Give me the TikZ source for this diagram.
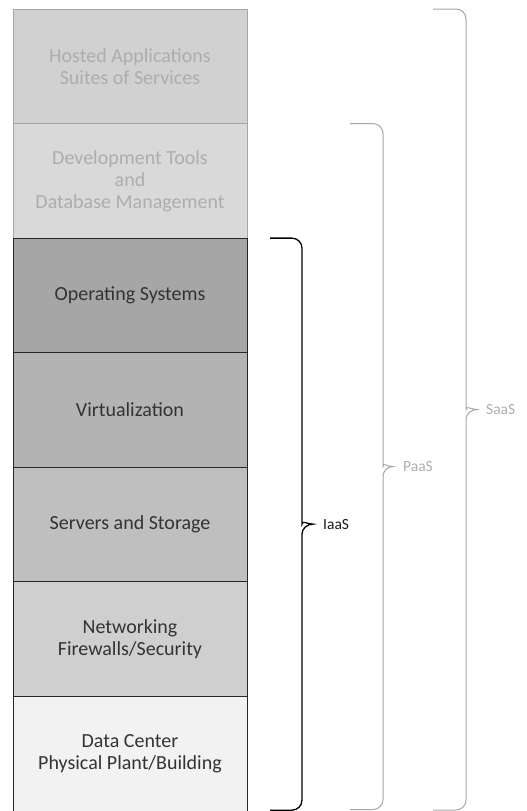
\documentclass[tikz,border=0pt]{standalone}
\usepackage{fontspec}
\setmainfont{Carlito}
\usetikzlibrary{positioning,calc}

\definecolor{hostedfill}{HTML}{D1D1D1}
\definecolor{devfill}{HTML}{D9D9D9}
\definecolor{osfill}{HTML}{A6A6A6}
\definecolor{virtfill}{HTML}{B3B3B3}
\definecolor{serverfill}{HTML}{BFBFBF}
\definecolor{netfill}{HTML}{CFCFCF}
\definecolor{dcfill}{HTML}{F2F2F2}
\definecolor{fadedtext}{HTML}{ADADAD}
\definecolor{layertext}{HTML}{333333}

\begin{document}
\begin{tikzpicture}[x=1pt, y=-1pt,
    layer/.style={draw=black!85, line width=0.9pt, rectangle, minimum width=234pt, minimum height=114.57pt,
      inner sep=0pt, outer sep=0pt, align=center, text=layertext, font=\fontsize{20}{22}\selectfont},
    faded/.style={draw=black!35, text=fadedtext},
    brc/.style={line width=1pt, draw=black!35, rounded corners=10pt},
    tag/.style={inner sep=0pt, text=fadedtext, font=\fontsize{15.5}{18}\selectfont}]
  \useasboundingbox (0,0) rectangle (527,811);

  % the stack of layers
  \node [layer, faded, fill=hostedfill, anchor=north west] (hosted) at (13,9) {Hosted Applications\\Suites of Services};
  \node [layer, faded, fill=devfill, below=0pt of hosted] (devtools) {Development Tools\\and\\Database Management};
  \node [layer, fill=osfill, below=0pt of devtools] (os) {Operating Systems};
  \node [layer, fill=virtfill, below=0pt of os] (virt) {Virtualization};
  \node [layer, fill=serverfill, below=0pt of virt] (servers) {Servers and Storage};
  \node [layer, fill=netfill, below=0pt of servers] (network) {Networking\\Firewalls/Security};
  \node [layer, fill=dcfill, below=0pt of network] (datacenter) {Data Center\\Physical Plant/Building};

  % braces
  \draw [brc, draw=black, line width=1.3pt] (os.north east) ++(23,0) -- ++(32,0) -- ++(0,276)
    [sharp corners] to[out=-90,in=180] ++(11,10) coordinate (iaastip) to[out=180,in=90] ++(-11,10)
    [rounded corners=10pt] -- ++(0,276) -- ++(-32,0);
  \draw [brc] (devtools.north east) ++(103,0) -- ++(33,0) -- ++(0,333)
    [sharp corners] to[out=-90,in=180] ++(10,10) coordinate (paastip) to[out=180,in=90] ++(-10,10)
    [rounded corners=10pt] -- ++(0,333) -- ++(-33,0);
  \draw [brc] (hosted.north east) ++(186,0) -- ++(33,0) -- ++(0,390.5)
    [sharp corners] to[out=-90,in=180] ++(11,10) coordinate (saastip) to[out=180,in=90] ++(-11,10)
    [rounded corners=10pt] -- ++(0,390.5) -- ++(-33,0);

  \node [tag, text=black!90, right=10pt of iaastip] (iaas) {IaaS};
  \node [tag, right=10pt of paastip] (paas) {PaaS};
  \node [tag, right=9pt of saastip] (saas) {SaaS};
\end{tikzpicture}
\end{document}
